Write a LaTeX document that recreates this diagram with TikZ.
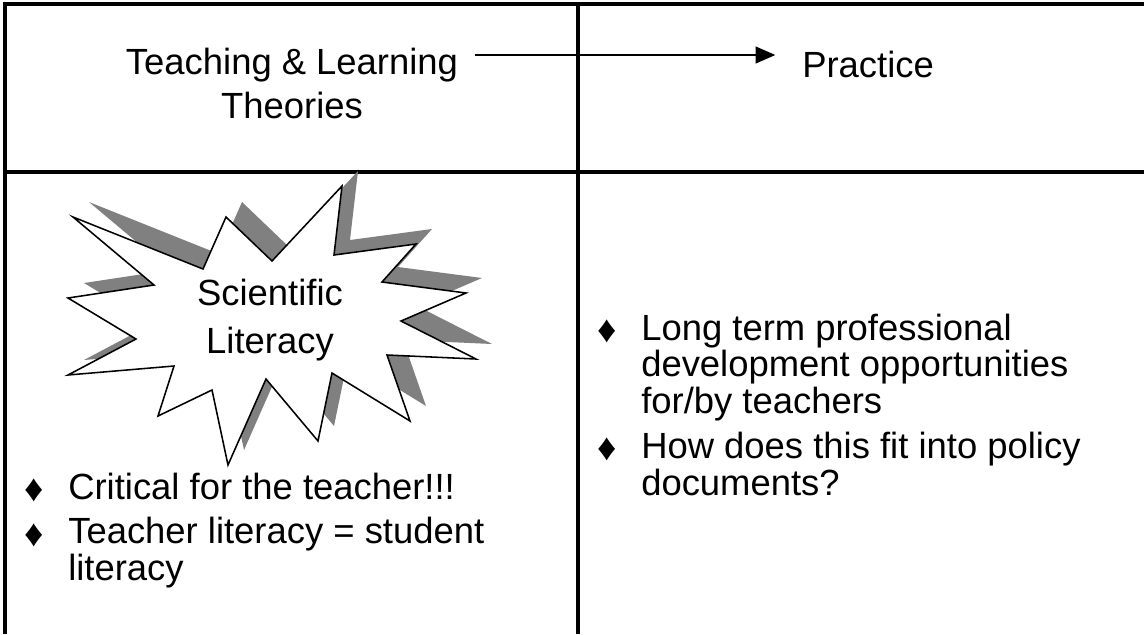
\documentclass[tikz,border=0pt]{standalone}
\usepackage{fontspec}
\setmainfont{Liberation Sans}
\usetikzlibrary{arrows.meta}
\definecolor{shade}{RGB}{128,128,128}
\begin{document}
\begin{tikzpicture}[x=0.025cm, y=-0.025cm,
    grid/.style = {line width=2.2pt},
    head/.style = {font=\fontsize{25.9}{30.6}\selectfont, inner sep=0pt},
    item/.style = {font=\fontsize{25.9}{25.9}\selectfont, inner sep=0pt, align=left, anchor=base west},
    bul/.style = {font=\fontsize{27}{27}\selectfont, inner sep=0pt},
    flow/.style = {line width=1.1pt, -{Triangle[length=14pt, width=12pt]}},
    burst/.style = {line width=1.1pt, line join=miter, fill=white,
        preaction={fill=shade, transform canvas={xshift=0.4cm, yshift=0.375cm}}}]
    \useasboundingbox (0,0) rectangle (1144,634);
    % table lines
    \draw[grid] (5,634) -- (5,4) -- (1144,4);
    \draw[grid] (5,172) -- (1144,172);
    \draw[grid] (578,4) -- (578,634);
    % top row (base = last line)
    \node[head, align=center, anchor=base] (theo) at (292,118) {Teaching \& Learning\\Theories};
    \node[head, anchor=base west] (prac) at (802,77) {Practice};
    \coordinate (from) at (475,55);
    \draw[flow, shorten >=19pt] (from) -- (from -| prac.west);
    % the burst
    \draw[burst] (73,217) -- (203,269) -- (226,217) -- (272,261) -- (342,186) -- (334,255)
        -- (416,244) -- (382,282) -- (466,293) -- (401,321) -- (476,359) -- (387,355)
        -- (410,421) -- (332,373) -- (318,441) -- (266,379) -- (228,465) -- (212,390)
        -- (158,416) -- (174,366) -- (68,375) -- (136,339) -- (68,298) -- (154,285) -- cycle;
    \node[head, font=\fontsize{25.9}{34.1}\selectfont, align=center, anchor=base] (sci) at (270,353) {Scientific\\Literacy};
    % left cell
    \node[bul] (b1) at (34,490) {♦};
    \node[item] (crit) at (68,499) {Critical for the teacher!!!};
    \node[bul] (b2) at (34,535) {♦};
    \node[item] (lit) at (68,580) {Teacher literacy = student\\literacy};
    % right cell
    \node[bul] (b3) at (607,331) {♦};
    \node[item] (pd) at (641,413) {Long term professional\\development opportunities\\for/by teachers};
    \node[bul] (b4) at (607,449) {♦};
    \node[item] (pol) at (641,495) {How does this fit into policy\\documents?};
\end{tikzpicture}
\end{document}
